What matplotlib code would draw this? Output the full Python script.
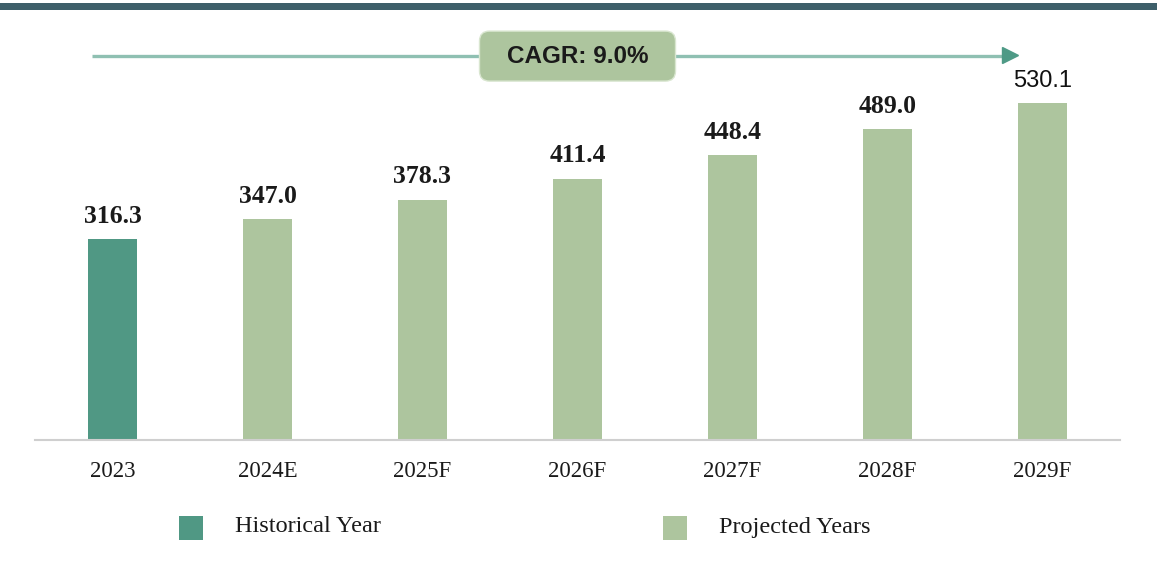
import matplotlib.pyplot as plt
from matplotlib.patches import Rectangle, FancyBboxPatch
from matplotlib.transforms import IdentityTransform

years = ['2023', '2024E', '2025F', '2026F', '2027F', '2028F', '2029F']
values = [316.3, 347.0, 378.3, 411.4, 448.4, 489.0, 530.1]
is_historical = [True, False, False, False, False, False, False]
legend_labels = ['Historical Year', 'Projected Years']
cagr_text = 'CAGR: 9.0%'

hist_color = '#509884'
proj_color = '#adc59e'
serif = ['Liberation Serif', 'DejaVu Serif']
sans = ['Liberation Sans', 'DejaVu Sans']

W, H = 1157, 566
fig = plt.figure(figsize=(W / 100, H / 100), dpi=100)
ax = fig.add_axes([35 / W, (H - 440) / H, 1085 / W, 420 / H])

colors = [hist_color if h else proj_color for h in is_historical]
x = list(range(len(years)))
bars = ax.bar(x, values, width=0.32, color=colors)

ax.set_xlim(-0.5, 6.5)
ax.set_ylim(0, 660.8)

for i, (b, v) in enumerate(zip(bars, values)):
    if i == len(values) - 1:
        ax.annotate(f'{v:.1f}', (b.get_x() + b.get_width() / 2, v), xytext=(0, 8),
                    textcoords='offset points', ha='center', va='bottom',
                    fontsize=17, family=sans, color='#111111')
    else:
        ax.annotate(f'{v:.1f}', (b.get_x() + b.get_width() / 2, v), xytext=(0, 8),
                    textcoords='offset points', ha='center', va='bottom',
                    fontsize=18.5, family=serif, fontweight='bold', color='#1a1a1a')

ax.set_xticks(x)
ax.set_xticklabels(years, family=serif, fontsize=16.5, color='#1a1a1a')
ax.tick_params(axis='x', length=0, pad=15)
ax.set_yticks([])
for s in ['top', 'right', 'left']:
    ax.spines[s].set_visible(False)
ax.spines['bottom'].set_color('#cfcfcf')
ax.spines['bottom'].set_linewidth(1.5)

# CAGR arrow
arrow_y = 604
ax.plot([-0.135, 5.76], [arrow_y, arrow_y], color='#8fc0b2', lw=2.4, clip_on=False,
        solid_capstyle='butt', zorder=3)
ax.plot([5.79], [arrow_y + 2], marker='>', color='#4e9a86', markersize=11, clip_on=False,
        zorder=3)

cx, cy = ax.transData.transform((3, arrow_y))
bw, bh = 196, 50
box = FancyBboxPatch((cx - bw / 2, cy - bh / 2), bw, bh,
                     boxstyle='round,pad=0,rounding_size=10',
                     facecolor=proj_color, edgecolor='#d9e6d0', lw=1,
                     transform=IdentityTransform(), zorder=5, clip_on=False)
ax.add_patch(box)
ax.text(3, arrow_y, cagr_text, ha='center', va='center', fontsize=17.5,
        fontweight='bold', family=sans, color='#1a1a1a', zorder=6, clip_on=False)

# top band
fig.patches.append(Rectangle((0, (H - 10) / H), 1, 7 / H, transform=fig.transFigure,
                             facecolor='#3e5f6a', edgecolor='none'))

# legend
leg_x = [179, 663]
leg_colors = [hist_color, proj_color]
for lx, lc, lab in zip(leg_x, leg_colors, legend_labels):
    fig.patches.append(Rectangle((lx / W, (H - 540) / H), 24 / W, 24 / H,
                                 transform=fig.transFigure, facecolor=lc, edgecolor='none'))
    fig.text((lx + 56) / W, (H - 527) / H, lab, ha='left', va='center',
             family=serif, fontsize=17.5, color='#1a1a1a')

fig.savefig('out.png', dpi=100)
